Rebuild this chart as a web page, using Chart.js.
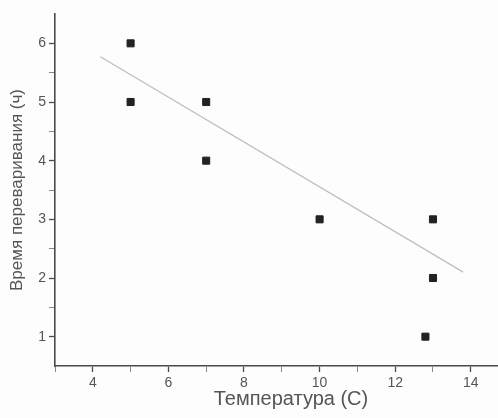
<!DOCTYPE html>
<html>
<head>
<meta charset="utf-8">
<script src="https://cdn.jsdelivr.net/npm/chart.js@4"></script>
<style>
  html, body { margin: 0; padding: 0; background: #fdfdfd; }
  #wrap { width: 498px; height: 418px; }
</style>
</head>
<body>
<div id="wrap"><canvas id="chart"></canvas></div>
<script>
// measured points (temperature, digestion time)
const temps = [5, 5, 7, 7, 10, 13, 13, 12.8];
const hours = [6, 5, 5, 4, 3, 3, 2, 1];
// fitted trend line, end points
const fitX = [4.2, 13.8];
const fitY = [5.77, 2.1];

const xLabel = 'Температура (С)';
const yLabel = 'Время переваривания (ч)';

const axisColor = '#4a4a4a';
const textColor = '#555';
const fontFamily = 'Liberation Sans, Arial';

// x title sits a bit right of the axis centre in the original
const xTitlePlugin = {
    id: 'xTitle',
    afterDraw(chart) {
        const c = chart.ctx;
        c.save();
        c.fillStyle = textColor;
        c.font = '20px ' + fontFamily;
        c.textAlign = 'center';
        c.textBaseline = 'alphabetic';
        c.fillText(xLabel, 291, 405);
        c.restore();
    }
};

const ctx = document.getElementById('chart').getContext('2d');
const chart = new Chart(ctx, {
    type: 'scatter',
    data: {
        datasets: [{
            label: 'fit',
            type: 'line',
            data: fitX.map((x, i) => ({x: x, y: fitY[i]})),
            borderColor: '#bdbdbd',
            borderWidth: 1.2,
            pointRadius: 0,
            fill: false
        }, {
            label: 'data',
            data: temps.map((t, i) => ({x: t, y: hours[i]})),
            pointStyle: 'rect',
            pointRadius: 5,
            pointBackgroundColor: '#222',
            pointBorderColor: '#222',
            pointBorderWidth: 1
        }]
    },
    plugins: [xTitlePlugin],
    options: {
        responsive: true,
        maintainAspectRatio: false,
        animation: false,
        layout: {
            autoPadding: false,
            padding: {top: 14, right: 0, left: 0, bottom: 0}
        },
        plugins: {
            legend: {display: false},
            tooltip: {enabled: false}
        },
        scales: {
            x: {
                type: 'linear',
                min: 3,
                max: 14.72,
                afterBuildTicks: (scale) => {
                    scale.ticks = scale.ticks.filter(t => Number.isInteger(t.value));
                },
                afterFit: (scale) => {
                    scale.height = 52;
                    scale.paddingRight = 0;
                },
                ticks: {
                    stepSize: 1,
                    includeBounds: false,
                    autoSkip: false,
                    maxRotation: 0,
                    padding: 3,
                    color: textColor,
                    font: {family: fontFamily, size: 14},
                    callback: (v) => (v % 2 === 0 ? v : '')
                },
                grid: {
                    drawOnChartArea: false,
                    drawTicks: true,
                    tickLength: 6,
                    tickColor: (c) => (c.tick && c.tick.value % 2 === 0 ? axisColor : '#888'),
                    tickWidth: (c) => (c.tick && c.tick.value % 2 === 0 ? 1.3 : 1)
                },
                border: {color: axisColor, width: 1.6},
                title: {display: false}
            },
            y: {
                type: 'linear',
                min: 0.5,
                max: 6.5,
                afterBuildTicks: (scale) => {
                    scale.ticks = scale.ticks.filter(t => t.value >= 1 && t.value <= 6);
                },
                afterFit: (scale) => { scale.width = 55; },
                ticks: {
                    stepSize: 0.5,
                    includeBounds: false,
                    autoSkip: false,
                    padding: 3,
                    color: textColor,
                    font: {family: fontFamily, size: 14},
                    callback: (v) => (Number.isInteger(v) ? v : '')
                },
                grid: {
                    drawOnChartArea: false,
                    drawTicks: true,
                    tickLength: 6,
                    tickColor: (c) => (c.tick && Number.isInteger(c.tick.value) ? axisColor : '#888'),
                    tickWidth: (c) => (c.tick && Number.isInteger(c.tick.value) ? 1.3 : 1)
                },
                border: {color: axisColor, width: 1.6},
                title: {
                    display: true,
                    text: yLabel,
                    color: textColor,
                    font: {family: fontFamily, size: 17},
                    padding: {top: 7, bottom: 0}
                }
            }
        }
    }
});
</script>
</body>
</html>
